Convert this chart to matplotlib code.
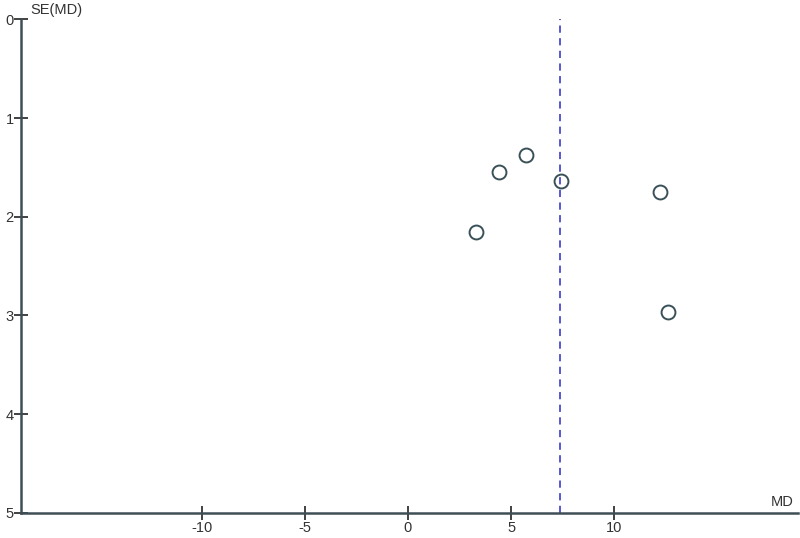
import matplotlib
matplotlib.use('Agg')
import matplotlib.pyplot as plt

# study estimates (mean difference) and their standard errors
md = [5.73, 4.39, 7.42, 12.23, 3.31, 12.58]
se = [1.37, 1.55, 1.64, 1.75, 2.15, 2.97]
pooled_md = 7.35

x_ticks = [-10, -5, 0, 5, 10]
y_ticks = [0, 1, 2, 3, 4, 5]

axis_color = '#3e4e56'
plt.rcParams['font.family'] = ['Liberation Sans', 'DejaVu Sans']
plt.rcParams['axes.unicode_minus'] = False

fig = plt.figure(figsize=(8.0, 5.38), dpi=100)
ax = fig.add_axes([0.0259, 0.047, 0.9716, 0.9168])

ax.plot(md, se, linestyle='none', marker='o', markersize=10,
        markerfacecolor='white', markeredgecolor='#3a5058', markeredgewidth=1.4)
ax.axvline(pooled_md, color='#4a4ad0', linestyle=(0, (4, 3)), linewidth=1.3)

ax.set_xlim(-18.76, 18.9)
ax.set_ylim(5, 0)
ax.set_xticks(x_ticks)
ax.set_yticks(y_ticks)

for side in ['top', 'right']:
    ax.spines[side].set_visible(False)
for side in ['left', 'bottom']:
    ax.spines[side].set_color(axis_color)
    ax.spines[side].set_linewidth(1.8)

ax.tick_params(axis='both', direction='inout', length=10, width=1.3,
               color='#333333', labelsize=10.5, labelcolor='#333333', pad=1)
ax.tick_params(axis='y', pad=0)

ax.text(0.012, 1.005, 'SE(MD)', transform=ax.transAxes, fontsize=10.5,
        color='#333333', ha='left', va='bottom')
ax.text(0.995, 0.008, 'MD', transform=ax.transAxes, fontsize=10.5,
        color='#333333', ha='right', va='bottom')

plt.savefig('out.png', dpi=100)
